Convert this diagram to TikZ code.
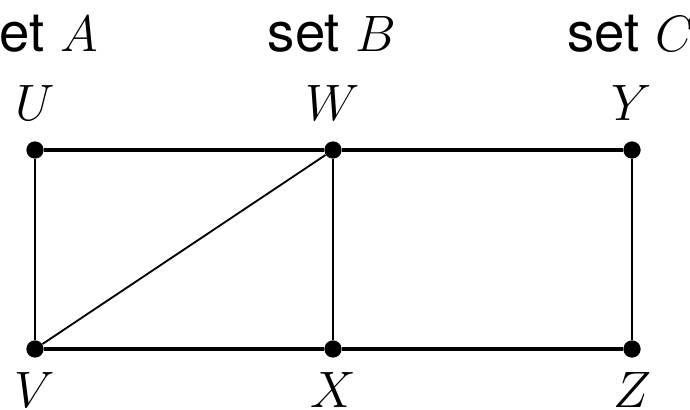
\documentclass[tikz,border=0pt]{standalone}
\usepackage{fontspec}
\setsansfont{TeX Gyre Heros}
\usetikzlibrary{positioning}

\newcommand{\setword}{{\sffamily\fontsize{26.5}{30}\selectfont set}}

\begin{document}
\begin{tikzpicture}[
    x=0.486pt, y=-0.486pt,
    vert/.style={circle, fill=black, inner sep=0pt, minimum size=8.4pt},
    lbl/.style={font=\Huge, inner sep=0pt, anchor=base},
    hedge/.style={line width=1.8pt},
    vedge/.style={line width=1.3pt},
    dedge/.style={line width=0.9pt}
]
\useasboundingbox (0,0) rectangle (690,410);

% ---- set headings ----
\node[lbl] (setA) at (35, 52)  {\setword{} $A$};
\node[lbl] (setB) at (332, 52) {\setword{} $B$};
\node[lbl] (setC) at (631, 52) {\setword{} $C$};

% ---- vertices ----
\node[vert] (U) at (35, 150)  {};
\node[vert] (W) at (333, 150) {};
\node[vert] (Y) at (632, 150) {};
\node[vert] (V) at (35, 349)  {};
\node[vert] (X) at (333, 349) {};
\node[vert] (Z) at (632, 349) {};

% ---- vertex names ----
\node[lbl] (lU) at (35, 121)  {$U$};
\node[lbl] (lW) at (333, 121) {$W$};
\node[lbl] (lY) at (632, 121) {$Y$};
\node[lbl] (lV) at (35, 407)  {$V$};
\node[lbl] (lX) at (333, 407) {$X$};
\node[lbl] (lZ) at (632, 407) {$Z$};

% ---- edges ----
\draw[hedge] (U) -- (W) -- (Y);
\draw[hedge] (V) -- (X) -- (Z);
\draw[vedge] (U) -- (V);
\draw[vedge] (W) -- (X);
\draw[vedge] (Y) -- (Z);
\draw[dedge] (V) -- (W);

\end{tikzpicture}
\end{document}
